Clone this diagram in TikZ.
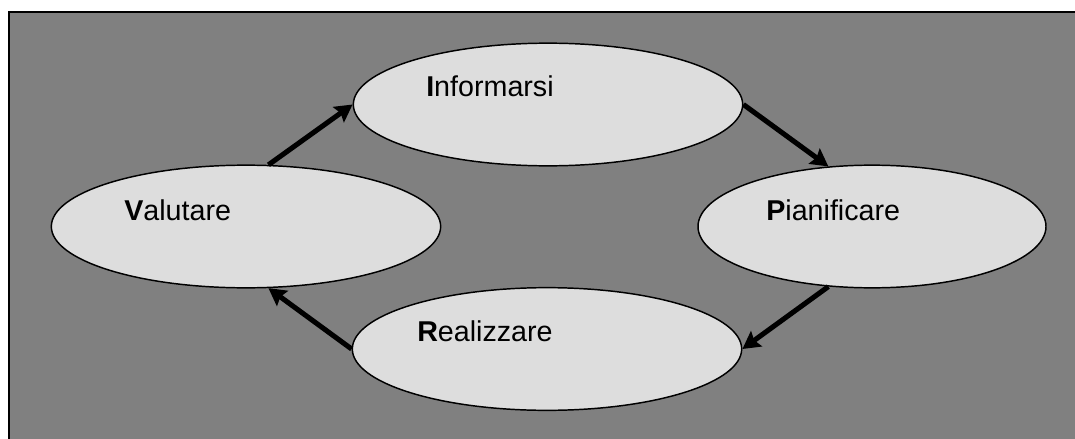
\documentclass[tikz,border=0pt]{standalone}
\usepackage{fontspec}
\setmainfont{Liberation Sans}
\usetikzlibrary{arrows.meta, positioning, calc, shapes.geometric}

\definecolor{bggray}{RGB}{128,128,128}
\definecolor{ellgray}{RGB}{221,221,221}

\begin{document}
\begin{tikzpicture}[
  x=0.75pt, y=-0.75pt,
  phase/.style = {ellipse, draw, line width=1.1pt, fill=ellgray, inner sep=0pt, minimum height=92pt},
  lbl/.style = {anchor=base west, inner sep=0pt, font=\fontsize{21.5pt}{24pt}\selectfont},
  arrow/.style = {line width=3.8pt, -{Stealth[length=13pt, width=14pt, inset=2pt]}}
]
\useasboundingbox (0,0) rectangle (1075,439);

% Background frame
\begin{scope}
\clip (0,0) rectangle (1075,439);
\draw[line width=2.2pt, fill=bggray] (9,12) rectangle (1090,460);
\end{scope}

% Phase ellipses
\node[phase, minimum width=292pt] (inf) at (548,104.5) {};
\node[phase, minimum width=292pt] (val) at (246,226.5) {};
\node[phase, minimum width=261pt] (pia) at (872,226.5) {};
\node[phase, minimum width=292pt] (rea) at (547,349) {};

% Labels
\node[lbl] (tinf) at (426,96) {\textbf{I}nformarsi};
\node[lbl] (tval) at (124,220) {\textbf{V}alutare};
\node[lbl] (tpia) at (766,220) {\textbf{P}ianificare};
\node[lbl] (trea) at (417,341) {\textbf{R}ealizzare};

% Cycle arrows
\draw[arrow] (val.70) -- (inf.west);
\draw[arrow] (inf.east) -- (pia.126);
\draw[arrow] (pia.234) -- (rea.east);
\draw[arrow] (rea.west) -- (val.290);

\end{tikzpicture}
\end{document}
